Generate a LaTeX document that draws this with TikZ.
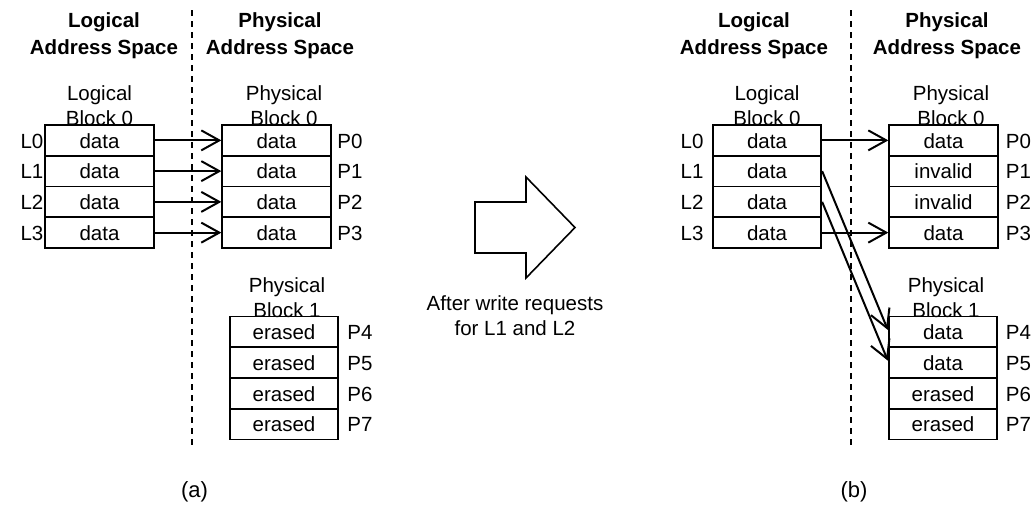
\documentclass[tikz,border=0pt]{standalone}
\usepackage{fontspec}
\setmainfont{Liberation Sans}
\usetikzlibrary{arrows.meta,calc}
\begin{document}
\begin{tikzpicture}[x=1pt,y=-1pt,
  every node/.style={font=\fontsize{20.5}{25}\selectfont, inner sep=0pt},
  cell/.style={draw, line width=1.8pt, minimum width=108.5pt, minimum height=30.75pt,
    text height=15.5pt, text depth=0pt},
  tag/.style={text height=15.5pt, text depth=0pt},
  heading/.style={font=\fontsize{20.5}{27}\selectfont\bfseries, align=center},
  blocklabel/.style={align=center},
  divider/.style={line width=1.5pt, dash pattern=on 6pt off 5pt},
  conn/.style={line width=2pt, -{Straight Barb[length=18pt,width=20pt]}},
  bigarrow/.style={draw, line width=1.6pt, line join=miter},
  caption/.style={font=\fontsize{22}{26}\selectfont}
]
\useasboundingbox (0,0) rectangle (1034,504);

% ---------------- (a) before the writes ----------------
\coordinate (adivtop) at (192,10);
\coordinate (adivbot) at (192,447);
\draw[divider] (adivtop) -- (adivbot);

\node[heading] (ahlog) at (104,36) {Logical\\Address Space};
\node[heading] (ahphy) at (280,36) {Physical\\Address Space};

\node[blocklabel] (alb0) at (99.5,106) {Logical\\Block 0};
\node[blocklabel] (apb0) at (284,106) {Physical\\Block 0};
\node[blocklabel] (apb1) at (287,297.5) {Physical\\Block 1};

\foreach \i in {0,1,2,3} {
  \node[cell] (aL\i) at (99.5,{140.375+30.75*\i}) {data};
  \node[tag]  (aL\i t) at (32,{140.375+30.75*\i}) {L\i};
  \node[cell] (aP\i) at (276.5,{140.375+30.75*\i}) {data};
  \node[tag]  (aP\i t) at (350,{140.375+30.75*\i}) {P\i};
}
\foreach \i/\j in {0/4,1/5,2/6,3/7} {
  \node[cell] (aP\j) at (284,{331.875+30.75*\i}) {erased};
  \node[tag]  (aP\j t) at (360,{331.875+30.75*\i}) {P\j};
}
\foreach \i in {0,1,2,3}
  \draw[conn] (aL\i.east) -- (aP\i.west);

% ---------------- transition arrow ----------------
\draw[bigarrow] (475,202) -- (526,202) -- (526,177) -- (575,227.5)
  -- (526,278) -- (526,253) -- (475,253) -- cycle;
\node[blocklabel] (step) at (515,316) {After write requests\\for L1 and L2};

% ---------------- (b) after the writes ----------------
\coordinate (bdivtop) at (851,10);
\coordinate (bdivbot) at (851,447);
\draw[divider] (bdivtop) -- (bdivbot);

\node[heading] (bhlog) at (754,36) {Logical\\Address Space};
\node[heading] (bhphy) at (947,36) {Physical\\Address Space};

\node[blocklabel] (blb0) at (767,106) {Logical\\Block 0};
\node[blocklabel] (bpb0) at (951,106) {Physical\\Block 0};
\node[blocklabel] (bpb1) at (946,297.5) {Physical\\Block 1};

\foreach \i/\s in {0/data,1/invalid,2/invalid,3/data} {
  \node[cell] (bL\i) at (767,{140.375+30.75*\i}) {data};
  \node[tag]  (bL\i t) at (692,{140.375+30.75*\i}) {L\i};
  \node[cell] (bP\i) at (943.5,{140.375+30.75*\i}) {\s};
  \node[tag]  (bP\i t) at (1018.5,{140.375+30.75*\i}) {P\i};
}
\foreach \i/\j/\s in {0/4/data,1/5/data,2/6/erased,3/7/erased} {
  \node[cell] (bP\j) at (943,{331.875+30.75*\i}) {\s};
  \node[tag]  (bP\j t) at (1018.5,{331.875+30.75*\i}) {P\j};
}
\draw[conn] (bL0.east) -- (bP0.west);
\draw[conn] (bL3.east) -- (bP3.west);
\draw[conn] (bL1.east) -- ($(bP4.west)+(0,-2)$);
\draw[conn] (bL2.east) -- ($(bP5.west)+(0,-2)$);

% ---------------- captions ----------------
\node[caption] (capa) at (194.5,492) {(a)};
\node[caption] (capb) at (854,492) {(b)};
\end{tikzpicture}
\end{document}
